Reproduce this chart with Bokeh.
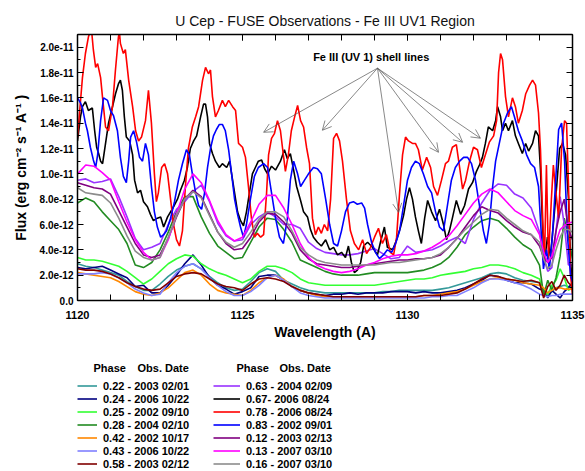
from bokeh.plotting import figure
from bokeh.layouts import column
from bokeh.models import (LinearAxis, FixedTicker, CustomJSTickFormatter, Legend,
                          LegendItem, Label, Arrow, OpenHead, Range1d)
from bokeh.embed import file_html
from bokeh.resources import INLINE

FONT = "Liberation Sans"
UNIT = 1e-12  # flux values below are in units of 1e-12 erg cm-2 s-1 A-1

# ---------------- axis ticks ----------------
X_MAJOR = [1120, 1125, 1130, 1135]
X_MINOR = list(range(1120, 1136))
Y_MAJOR = [0.0, 2e-12, 4e-12, 6e-12, 8e-12, 1e-11, 1.2e-11, 1.4e-11, 1.6e-11, 1.8e-11, 2e-11]
Y_MINOR = [0.0, 1e-12, 2e-12, 3e-12, 4e-12, 5e-12, 6e-12, 7e-12, 8e-12, 9e-12, 1e-11,
           1.1e-11, 1.2e-11, 1.3e-11, 1.4e-11, 1.5e-11, 1.6e-11, 1.7e-11, 1.8e-11,
           1.9e-11, 2e-11, 2.1e-11]

# ---------------- smooth spectra (common wavelength grid) ----------------
WL_GRID = [1120.00, 1120.25, 1120.50, 1120.75, 1121.00, 1121.25, 1121.50, 1121.75, 1122.00, 1122.25,
           1122.50, 1122.75, 1123.00, 1123.25, 1123.50, 1123.75, 1124.00, 1124.25, 1124.50, 1124.75,
           1125.00, 1125.25, 1125.50, 1125.75, 1126.00, 1126.25, 1126.50, 1126.75, 1127.00, 1127.25,
           1127.50, 1127.75, 1128.00, 1128.25, 1128.50, 1128.75, 1129.00, 1129.25, 1129.50, 1129.75,
           1130.00, 1130.25, 1130.50, 1130.75, 1131.00, 1131.25, 1131.50, 1131.75, 1132.00, 1132.25,
           1132.50, 1132.75, 1133.00, 1133.25, 1133.50, 1133.75, 1134.00, 1134.125, 1134.25, 1134.375,
           1134.50, 1134.625, 1134.75, 1134.875, 1135.00]

TEAL_022 = [2.9, 2.7, 2.6, 2.4, 2.2, 2.0, 1.5, 1.1, 0.8, 0.8,
            1.3, 1.9, 2.4, 2.7, 2.9, 2.5, 1.9, 1.4, 1.0, 0.8,
            0.9, 1.5, 2.2, 2.5, 2.3, 1.6, 1.3, 1.0, 0.8, 0.7,
            0.6, 0.6, 0.6, 0.6, 0.6, 0.6, 0.6, 0.7, 0.7, 0.8,
            0.8, 0.8, 0.8, 0.8, 0.9, 1.0, 1.2, 1.4, 1.6, 1.8,
            2.1, 2.2, 2.1, 1.8, 1.6, 1.5, 1.4, 0.8, 0.4, 0.7,
            1.0, 1.1, 1.2, 1.1, 1.0]
NAVY_024 = [2.6, 2.5, 2.6, 2.7, 2.4, 2.1, 1.8, 1.1, 1.2, 0.6,
            0.6, 1.2, 2.0, 2.9, 3.6, 2.8, 1.8, 1.2, 0.9, 0.5,
            0.7, 1.0, 1.9, 2.0, 2.0, 1.6, 1.1, 0.8, 0.6, 0.5,
            0.4, 0.5, 0.5, 0.6, 0.5, 0.6, 0.6, 0.6, 0.7, 0.7,
            0.7, 0.6, 0.7, 0.6, 0.6, 0.7, 0.8, 1.0, 1.3, 1.6,
            2.0, 1.9, 1.6, 1.4, 1.4, 1.3, 0.9, 0.8, 0.2, 0.8,
            0.5, 0.2, 0.7, 1.0, 1.4]
LIME_025 = [3.4, 3.2, 3.2, 3.1, 2.9, 2.7, 2.3, 1.8, 1.3, 1.7,
            2.3, 2.9, 3.3, 3.6, 3.5, 2.9, 2.5, 2.2, 2.0, 1.7,
            1.4, 1.7, 2.3, 2.7, 2.7, 2.5, 2.2, 1.7, 1.4, 1.3,
            1.2, 1.2, 1.2, 1.2, 1.2, 1.2, 1.2, 1.3, 1.4, 1.5,
            1.6, 1.7, 1.7, 1.8, 2.0, 2.1, 2.2, 2.3, 2.5, 2.6,
            2.8, 2.8, 2.7, 2.5, 2.2, 2.0, 1.7, 0.6, 0.5, 1.2,
            1.6, 2.5, 1.8, 0.8, 1.0]
GREEN_028 = [7.7, 8.1, 7.8, 7.0, 6.3, 5.6, 4.5, 2.8, 2.6, 3.0,
             4.0, 5.4, 7.0, 8.2, 8.2, 6.6, 5.3, 4.3, 3.8, 3.3,
             3.4, 4.6, 5.8, 6.5, 6.4, 5.6, 4.6, 3.2, 2.9, 2.6,
             2.3, 2.1, 2.0, 2.0, 2.0, 2.1, 2.2, 2.2, 2.2, 2.2,
             2.2, 2.3, 2.4, 2.6, 2.9, 3.4, 4.2, 5.2, 5.8, 6.3,
             6.5, 6.3, 5.7, 5.0, 4.4, 4.0, 2.8, 0.4, 1.6, 0.8,
             1.8, 3.5, 6.5, 5.0, 3.3]
ORANGE_042 = [2.2, 2.1, 2.0, 1.9, 1.8, 1.5, 1.1, 0.7, 0.5, 0.4,
              0.6, 1.0, 1.6, 2.2, 2.4, 2.0, 1.3, 0.8, 0.6, 0.5,
              0.4, 0.8, 1.4, 1.8, 2.0, 1.7, 1.1, 0.8, 0.6, 0.4,
              0.3, 0.3, 0.3, 0.3, 0.3, 0.3, 0.3, 0.3, 0.3, 0.3,
              0.3, 0.3, 0.4, 0.4, 0.5, 0.6, 0.7, 0.9, 1.2, 1.5,
              1.7, 1.8, 1.7, 1.6, 1.4, 1.3, 1.2, 1.0, 0.6, 0.8,
              1.0, 1.0, 0.9, 0.9, 0.9]
LTBLUE_043 = [2.1, 2.1, 2.1, 2.2, 2.1, 1.8, 1.4, 0.9, 0.6, 0.4,
              0.5, 1.4, 2.2, 2.7, 2.9, 2.5, 1.8, 1.2, 0.7, 0.4,
              0.4, 0.7, 1.2, 1.8, 2.0, 1.6, 1.1, 0.6, 0.4, 0.3,
              0.2, 0.2, 0.2, 0.2, 0.2, 0.2, 0.2, 0.2, 0.2, 0.2,
              0.2, 0.2, 0.2, 0.3, 0.3, 0.4, 0.4, 0.7, 1.0, 1.4,
              1.7, 1.7, 1.6, 1.4, 1.2, 0.9, 0.5, 0.4, 0.3, 0.4,
              0.4, 0.5, 0.5, 0.5, 0.5]
MAROON_058 = [2.5, 2.4, 2.4, 2.3, 2.1, 1.8, 1.4, 1.1, 0.9, 0.8,
              0.9, 1.4, 1.9, 2.1, 2.2, 2.1, 1.7, 1.3, 1.1, 1.0,
              0.8, 1.3, 1.7, 1.8, 1.7, 1.5, 1.1, 0.8, 0.6, 0.5,
              0.4, 0.3, 0.3, 0.3, 0.3, 0.3, 0.3, 0.3, 0.3, 0.3,
              0.3, 0.3, 0.4, 0.4, 0.4, 0.5, 0.6, 0.9, 1.3, 1.7,
              2.0, 1.9, 1.7, 1.6, 1.5, 1.6, 1.4, 0.2, 1.1, 1.5,
              0.8, 1.2, 2.0, 1.4, 1.1]
VIOLET_063 = [9.5, 9.6, 9.3, 9.4, 9.6, 8.2, 6.6, 4.9, 4.0, 4.2,
              4.5, 6.0, 7.2, 7.8, 8.6, 9.1, 7.8, 6.1, 5.1, 4.7,
              4.8, 6.0, 6.6, 7.0, 6.6, 6.0, 6.0, 5.7, 4.6, 4.1,
              3.8, 3.7, 3.6, 3.6, 3.7, 3.9, 4.1, 3.7, 3.3, 3.4,
              4.3, 3.8, 3.9, 4.0, 4.3, 4.7, 5.0, 4.5, 6.4, 7.7,
              8.7, 9.2, 9.1, 8.4, 8.1, 7.3, 5.4, 3.4, 2.3, 2.6,
              5.5, 8.2, 6.0, 2.8, 2.8]
PURPLE_012 = [9.3, 9.1, 8.9, 8.8, 8.4, 7.1, 5.8, 4.5, 3.6, 3.4,
              3.6, 4.9, 6.6, 8.0, 8.7, 8.2, 6.8, 5.4, 4.5, 4.0,
              4.1, 5.0, 6.2, 6.9, 6.8, 6.2, 5.3, 4.0, 3.3, 2.9,
              2.8, 2.7, 2.6, 2.6, 2.7, 2.8, 2.9, 3.0, 3.1, 3.2,
              3.2, 3.3, 3.3, 3.4, 3.6, 4.2, 4.9, 5.8, 6.7, 7.4,
              7.1, 6.9, 6.3, 5.8, 5.4, 5.2, 4.3, 3.4, 3.0, 3.4,
              5.5, 7.0, 8.0, 5.6, 4.8]
MAGENTA_013 = [10.0, 10.7, 10.6, 10.1, 9.5, 7.8, 6.2, 4.8, 3.8, 3.2,
               3.4, 4.8, 6.8, 8.8, 10.0, 9.3, 7.9, 6.3, 5.2, 4.7,
               5.0, 6.2, 7.6, 8.3, 8.3, 7.3, 6.0, 4.5, 3.4, 2.8,
               2.5, 2.3, 2.2, 2.3, 2.5, 2.8, 3.0, 3.3, 3.5, 3.6,
               3.6, 3.7, 3.9, 4.2, 4.6, 5.1, 5.9, 6.8, 7.7, 8.4,
               8.8, 8.5, 7.8, 7.1, 6.7, 6.4, 5.2, 3.8, 3.0, 3.5,
               4.6, 5.6, 5.9, 6.1, 6.2]
GREY_016 = [8.9, 8.5, 8.4, 8.3, 7.7, 6.5, 5.1, 3.9, 3.4, 3.2,
            3.4, 5.0, 6.7, 8.0, 8.6, 8.1, 6.7, 5.4, 4.6, 4.2,
            4.5, 5.4, 6.4, 7.0, 7.0, 6.6, 5.5, 4.2, 3.6, 3.2,
            3.0, 2.9, 2.8, 2.8, 2.8, 2.8, 2.8, 2.9, 3.0, 3.0,
            3.1, 3.2, 3.3, 3.4, 3.7, 4.2, 4.9, 5.6, 6.2, 6.8,
            7.2, 7.1, 6.5, 6.0, 5.5, 5.2, 4.6, 3.3, 2.5, 2.8,
            4.0, 5.0, 5.6, 5.6, 5.4]

# ---------------- noisy spectra ----------------
BLACK_WL = [1120.00, 1120.09, 1120.15, 1120.24, 1120.33, 1120.45, 1120.52, 1120.58, 1120.64, 1120.70,
            1120.76, 1120.85, 1120.94, 1121.06, 1121.15, 1121.24, 1121.30, 1121.36, 1121.42, 1121.48,
            1121.58, 1121.67, 1121.73, 1121.82, 1121.91, 1122.00, 1122.12, 1122.21, 1122.30, 1122.42,
            1122.52, 1122.61, 1122.73, 1122.82, 1122.91, 1123.03, 1123.12, 1123.24, 1123.33, 1123.42,
            1123.52, 1123.61, 1123.73, 1123.82, 1123.88, 1123.94, 1124.00, 1124.09, 1124.18, 1124.30,
            1124.39, 1124.52, 1124.61, 1124.67, 1124.76, 1124.85, 1124.94, 1125.03, 1125.12, 1125.21,
            1125.30, 1125.39, 1125.48, 1125.58, 1125.67, 1125.76, 1125.88, 1126.00, 1126.15, 1126.27,
            1126.36, 1126.45, 1126.55, 1126.64, 1126.76, 1126.85, 1126.97, 1127.06, 1127.15, 1127.27,
            1127.39, 1127.52, 1127.64, 1127.76, 1127.88, 1128.00, 1128.12, 1128.21, 1128.30, 1128.39,
            1128.48, 1128.58, 1128.67, 1128.79, 1128.94, 1129.09, 1129.18, 1129.30, 1129.39, 1129.55,
            1129.67, 1129.79, 1129.88, 1129.97, 1130.06, 1130.15, 1130.24, 1130.33, 1130.42, 1130.52,
            1130.61, 1130.73, 1130.85, 1130.97, 1131.09, 1131.18, 1131.27, 1131.36, 1131.48, 1131.61,
            1131.73, 1131.85, 1131.97, 1132.09, 1132.18, 1132.27, 1132.36, 1132.45, 1132.58, 1132.67,
            1132.73, 1132.82, 1132.88, 1132.97, 1133.06, 1133.18, 1133.27, 1133.36, 1133.48, 1133.58,
            1133.67, 1133.79, 1133.88, 1133.97, 1134.03, 1134.09, 1134.15, 1134.24, 1134.33, 1134.42,
            1134.52, 1134.61, 1134.70, 1134.79, 1134.88, 1134.94, 1135.00]
BLACK_067 = [12.6, 14.5, 15.3, 15.7, 15.0, 15.2, 13.4, 12.1, 11.6, 11.0,
             10.8, 12.4, 14.0, 15.3, 16.3, 17.1, 17.4, 16.6, 14.5, 12.9,
             12.6, 11.5, 9.5, 8.5, 8.7, 7.8, 7.4, 6.8, 6.3, 6.5,
             6.6, 5.8, 6.6, 7.0, 7.4, 8.0, 8.7, 9.5, 10.5, 12.0,
             12.6, 13.0, 14.5, 15.5, 15.5, 14.5, 12.4, 11.6, 11.0, 10.5,
             10.8, 10.5, 11.0, 10.0, 8.5, 7.0, 6.3, 5.9, 7.0, 8.5,
             10.0, 10.5, 11.0, 11.1, 10.4, 10.0, 10.6, 10.3, 11.0, 11.9,
             11.2, 11.6, 10.3, 9.0, 7.9, 7.0, 6.6, 5.6, 5.0, 4.6,
             4.3, 4.8, 4.0, 4.2, 3.6, 3.8, 3.4, 4.3, 3.0, 2.2,
             2.4, 3.0, 4.3, 4.6, 4.2, 3.6, 4.6, 5.8, 4.2, 4.0,
             4.8, 5.8, 6.7, 8.0, 8.9, 8.0, 6.6, 5.5, 4.5, 6.5,
             7.9, 7.0, 6.3, 7.2, 6.0, 4.8, 5.5, 6.5, 7.9, 6.8,
             7.5, 8.8, 9.3, 10.2, 10.7, 11.3, 12.4, 13.7, 13.4, 14.2,
             15.3, 14.5, 13.4, 14.0, 13.4, 14.2, 13.0, 12.4, 11.6, 12.4,
             11.8, 12.4, 13.4, 13.0, 10.3, 6.0, 3.0, 5.0, 3.5, 6.0,
             9.0, 12.0, 12.4, 11.5, 8.0, 3.0, 1.5]

RED_WL = [1120.00, 1120.15, 1120.24, 1120.33, 1120.42, 1120.48, 1120.55, 1120.61, 1120.70, 1120.76,
          1120.85, 1120.94, 1121.06, 1121.15, 1121.24, 1121.27, 1121.30, 1121.39, 1121.45, 1121.55,
          1121.67, 1121.76, 1121.85, 1121.94, 1122.06, 1122.15, 1122.24, 1122.33, 1122.39, 1122.45,
          1122.55, 1122.64, 1122.73, 1122.82, 1122.91, 1123.00, 1123.09, 1123.18, 1123.27, 1123.36,
          1123.48, 1123.58, 1123.67, 1123.79, 1123.88, 1123.97, 1124.03, 1124.09, 1124.18, 1124.27,
          1124.39, 1124.48, 1124.58, 1124.70, 1124.79, 1124.88, 1125.00, 1125.09, 1125.18, 1125.27,
          1125.36, 1125.45, 1125.55, 1125.64, 1125.73, 1125.79, 1125.88, 1125.97, 1126.06, 1126.15,
          1126.21, 1126.30, 1126.39, 1126.48, 1126.58, 1126.67, 1126.76, 1126.85, 1126.94, 1127.03,
          1127.12, 1127.21, 1127.30, 1127.39, 1127.48, 1127.58, 1127.67, 1127.76, 1127.85, 1127.94,
          1128.03, 1128.15, 1128.27, 1128.39, 1128.52, 1128.64, 1128.76, 1128.88, 1129.00, 1129.12,
          1129.24, 1129.36, 1129.48, 1129.58, 1129.67, 1129.76, 1129.85, 1129.94, 1130.03, 1130.15,
          1130.24, 1130.33, 1130.45, 1130.58, 1130.70, 1130.79, 1130.91, 1131.03, 1131.15, 1131.24,
          1131.36, 1131.48, 1131.58, 1131.67, 1131.76, 1131.88, 1132.00, 1132.12, 1132.24, 1132.36,
          1132.48, 1132.61, 1132.70, 1132.76, 1132.82, 1132.88, 1132.97, 1133.06, 1133.18, 1133.27,
          1133.36, 1133.48, 1133.58, 1133.70, 1133.79, 1133.88, 1133.97, 1134.03, 1134.09, 1134.15,
          1134.21, 1134.27, 1134.36, 1134.42, 1134.48, 1134.58, 1134.67, 1134.76, 1134.82, 1134.88,
          1134.94, 1135.00]
RED_078 = [12.9, 17.6, 19.5, 20.8, 21.5, 19.8, 18.4, 18.7, 17.6, 16.0,
           13.7, 13.4, 15.3, 18.2, 20.8, 21.2, 20.3, 19.5, 19.8, 17.4,
           15.3, 13.4, 12.6, 12.9, 14.2, 16.6, 14.0, 10.0, 7.8, 8.5,
           10.5, 10.8, 10.0, 8.0, 6.0, 4.8, 4.3, 5.5, 9.0, 12.0,
           13.7, 14.5, 15.3, 17.4, 18.4, 17.9, 18.2, 16.1, 14.5, 15.0,
           15.8, 15.3, 15.8, 15.3, 15.0, 12.4, 12.1, 11.3, 9.0, 6.5,
           5.0, 5.3, 5.0, 5.2, 8.5, 11.5, 12.8, 13.2, 14.2, 13.4,
           12.1, 10.2, 11.5, 13.4, 14.5, 15.4, 14.2, 13.7, 12.1, 10.8,
           6.5, 5.2, 5.8, 5.3, 6.0, 5.5, 8.0, 12.8, 13.2, 12.6,
           11.0, 8.0, 5.5, 4.5, 4.0, 4.8, 3.7, 4.2, 5.0, 5.7,
           4.5, 5.2, 3.8, 3.6, 5.0, 8.5, 11.5, 12.9, 12.6, 12.4,
           12.4, 11.9, 10.3, 11.3, 10.5, 9.0, 8.3, 9.5, 10.8, 11.0,
           12.1, 12.3, 10.5, 8.8, 9.5, 11.0, 12.1, 11.9, 10.5, 11.5,
           12.5, 13.0, 14.2, 18.0, 19.5, 19.0, 16.1, 14.5, 16.0, 15.3,
           14.0, 15.0, 16.3, 17.0, 17.4, 17.0, 14.8, 11.9, 7.0, 2.8,
           10.7, 3.3, 8.0, 10.7, 9.0, 6.5, 12.0, 14.2, 14.0, 9.0,
           2.0, 0.5]

BLUE_WL = [1120.00, 1120.09, 1120.15, 1120.24, 1120.30, 1120.39, 1120.48, 1120.55, 1120.61, 1120.70,
           1120.79, 1120.91, 1121.00, 1121.09, 1121.21, 1121.30, 1121.39, 1121.48, 1121.55, 1121.61,
           1121.70, 1121.79, 1121.88, 1121.97, 1122.06, 1122.15, 1122.24, 1122.33, 1122.42, 1122.52,
           1122.61, 1122.70, 1122.82, 1122.94, 1123.06, 1123.18, 1123.30, 1123.39, 1123.48, 1123.58,
           1123.67, 1123.76, 1123.85, 1123.94, 1124.03, 1124.12, 1124.21, 1124.30, 1124.39, 1124.48,
           1124.58, 1124.67, 1124.76, 1124.85, 1124.94, 1125.03, 1125.12, 1125.24, 1125.36, 1125.48,
           1125.64, 1125.76, 1125.88, 1126.00, 1126.12, 1126.24, 1126.36, 1126.45, 1126.55, 1126.67,
           1126.76, 1126.88, 1127.00, 1127.15, 1127.27, 1127.39, 1127.52, 1127.64, 1127.76, 1127.88,
           1128.00, 1128.12, 1128.24, 1128.36, 1128.48, 1128.61, 1128.70, 1128.79, 1128.91, 1129.03,
           1129.15, 1129.27, 1129.39, 1129.52, 1129.64, 1129.76, 1129.88, 1130.00, 1130.12, 1130.24,
           1130.36, 1130.48, 1130.61, 1130.73, 1130.85, 1130.97, 1131.09, 1131.21, 1131.33, 1131.45,
           1131.58, 1131.70, 1131.82, 1131.94, 1132.06, 1132.18, 1132.30, 1132.39, 1132.48, 1132.58,
           1132.67, 1132.79, 1132.91, 1133.03, 1133.15, 1133.24, 1133.36, 1133.48, 1133.61, 1133.73,
           1133.85, 1133.97, 1134.06, 1134.12, 1134.21, 1134.30, 1134.39, 1134.48, 1134.58, 1134.67,
           1134.76, 1134.85, 1134.94, 1135.00]
BLUE_083 = [16.0, 15.6, 15.2, 14.0, 13.4, 12.1, 11.1, 10.5, 11.5, 14.2,
            16.0, 15.8, 15.0, 14.6, 13.4, 11.3, 9.8, 9.3, 11.0, 12.9,
            13.4, 12.5, 11.3, 11.0, 12.4, 11.5, 9.0, 7.0, 5.8, 5.0,
            5.2, 5.5, 6.5, 7.8, 9.5, 10.8, 11.9, 11.5, 10.0, 8.5,
            7.5, 7.2, 8.5, 10.5, 12.0, 13.0, 13.5, 13.9, 13.9, 13.4,
            11.9, 10.0, 8.0, 6.8, 5.8, 5.0, 6.0, 8.0, 9.8, 10.5,
            10.8, 10.5, 8.5, 6.5, 5.0, 4.5, 6.5, 9.5, 11.0, 10.0,
            9.0, 9.5, 10.0, 10.5, 10.4, 10.0, 8.0, 6.0, 4.5, 4.3,
            5.5, 7.0, 7.7, 7.8, 7.6, 7.7, 7.3, 6.0, 4.6, 3.8,
            3.3, 3.6, 4.0, 3.8, 4.5, 5.5, 7.5, 9.5, 10.5, 11.0,
            10.8, 10.0, 9.0, 8.5, 7.0, 5.8, 5.5, 7.5, 9.5, 10.5,
            11.0, 11.3, 11.3, 10.8, 9.5, 7.5, 5.5, 4.5, 6.0, 9.0,
            11.0, 12.5, 14.0, 14.8, 15.3, 14.5, 13.4, 12.6, 11.5, 10.8,
            10.5, 9.0, 5.0, 2.5, 4.0, 2.5, 5.0, 9.0, 13.5, 14.0,
            11.0, 5.0, 2.0, 1.5]

# ---------------- legend text ----------------
LEGEND_LEFT = ["0.22 - 2003 02/01", "0.24 - 2006 10/22", "0.25 - 2002 09/10", "0.28 - 2004 02/10",
               "0.42 - 2002 10/17", "0.43 - 2006 10/22", "0.58 - 2003 02/12"]
LEGEND_RIGHT = ["0.63 - 2004 02/09", "0.67- 2006 08/24", "0.78 - 2006 08/24", "0.83 - 2002 09/01",
                "0.12 - 2003 02/13", "0.13 - 2007 03/10", "0.16 - 2007 03/10"]
LEGEND_HEAD = ["Phase", "Obs. Date"]

TITLE = "U Cep - FUSE Observations - Fe III UV1 Region"
ANNOT = "Fe III (UV 1) shell lines"
ANNOT_POS = (1128.9, 19.2)
ARROW_FROM = (1129.09, 18.34)
ARROW_TO = [(1125.64, 13.28), (1127.42, 13.44), (1129.73, 6.96),
            (1130.94, 11.70), (1131.67, 12.49), (1132.21, 12.81)]

series = [
    (WL_GRID, TEAL_022, "#339999"),
    (WL_GRID, NAVY_024, "#000080"),
    (WL_GRID, LIME_025, "#33ff33"),
    (WL_GRID, GREEN_028, "#228b22"),
    (WL_GRID, ORANGE_042, "#ff8800"),
    (WL_GRID, LTBLUE_043, "#8080ff"),
    (WL_GRID, MAROON_058, "#800000"),
    (WL_GRID, VIOLET_063, "#9933ff"),
    (BLACK_WL, BLACK_067, "#000000"),
    (RED_WL, RED_078, "#ff0000"),
    (BLUE_WL, BLUE_083, "#0000ff"),
    (WL_GRID, PURPLE_012, "#800080"),
    (WL_GRID, MAGENTA_013, "#ff00ff"),
    (WL_GRID, GREY_016, "#8c8c8c"),
]

LW = 1.6
W = 585
H_MAIN = 348
H_LEG = 123
BL, BR = 77, 13

# ================= main plot =================
p = figure(width=W, height=H_MAIN, output_backend="svg", toolbar_location=None,
           x_range=Range1d(1120, 1135), y_range=Range1d(0, 2.1e-11),
           min_border_left=BL, min_border_right=BR, min_border_top=34, min_border_bottom=48,
           background_fill_color="white", border_fill_color="white")
p.outline_line_color = None
p.xgrid.grid_line_color = None
p.ygrid.grid_line_color = None

p.title.text = TITLE
p.title.align = "center"
p.title.text_font = FONT
p.title.text_font_size = "14px"
p.title.text_font_style = "normal"
p.title.text_color = "#111111"
p.title.standoff = 12

for wl, fl, col in series:
    p.line(wl, [v * UNIT for v in fl], line_color=col, line_width=LW)

def style_axis(ax, major_in, minor_in):
    ax.major_tick_in = major_in
    ax.major_tick_out = 0
    ax.minor_tick_in = minor_in
    ax.minor_tick_out = 0
    ax.axis_line_width = 1.5
    ax.axis_line_color = "black"
    ax.major_tick_line_color = "black"
    ax.minor_tick_line_color = "black"
    ax.major_tick_line_width = 1
    ax.minor_tick_line_width = 1
    ax.major_label_text_font = FONT
    ax.major_label_text_font_style = "bold"
    ax.major_label_text_color = "black"
    ax.axis_label_text_font = FONT
    ax.axis_label_text_font_style = "bold"
    ax.axis_label_text_font_size = "14px"
    ax.axis_label_text_color = "black"

xa = p.xaxis[0]
xa.ticker = FixedTicker(ticks=X_MAJOR, minor_ticks=X_MINOR)
style_axis(xa, 6, 6)
xa.major_label_text_font_size = "11px"
xa.major_label_standoff = 10
xa.axis_label = "Wavelength (A)"
xa.axis_label_standoff = 2

ya = p.yaxis[0]
ya.ticker = FixedTicker(ticks=Y_MAJOR, minor_ticks=Y_MINOR)
ya.formatter = CustomJSTickFormatter(code="return (Math.abs(tick) < 1e-20) ? '0.0' : tick.toExponential(1);")
style_axis(ya, 6, 3)
ya.major_label_text_font_size = "10px"
ya.major_label_standoff = 4
ya.axis_label = "Flux (erg cm\u207b\u00b2 s\u207b\u00b9 A\u207b\u00b9 )"
ya.axis_label_standoff = 8

empty = CustomJSTickFormatter(code="return '';")
top = LinearAxis(ticker=FixedTicker(ticks=X_MAJOR, minor_ticks=X_MINOR), formatter=empty)
style_axis(top, 6, 6)
top.major_label_text_font_size = "0px"
top.major_label_standoff = 0
p.add_layout(top, "above")

right = LinearAxis(ticker=FixedTicker(ticks=Y_MAJOR, minor_ticks=Y_MINOR), formatter=empty)
style_axis(right, 6, 3)
right.major_label_text_font_size = "0px"
right.major_label_standoff = 0
p.add_layout(right, "right")

p.add_layout(Label(x=ANNOT_POS[0], y=ANNOT_POS[1] * UNIT, text=ANNOT, text_align="center",
                   text_baseline="middle", text_font=FONT, text_font_size="11px",
                   text_font_style="bold", text_color="black"))
for (xe, ye) in ARROW_TO:
    p.add_layout(Arrow(x_start=ARROW_FROM[0], y_start=ARROW_FROM[1] * UNIT,
                       x_end=xe, y_end=ye * UNIT, line_color="#555555", line_width=0.7,
                       end=OpenHead(size=9, line_color="#555555", line_width=0.7)))

# ================= legend panel (frame aligned with the main frame) =================
q = figure(width=W, height=H_LEG, output_backend="svg", toolbar_location=None,
           x_range=Range1d(0, 1), y_range=Range1d(0, 1),
           x_axis_type=None, y_axis_type=None,
           min_border_left=BL, min_border_right=BR, min_border_top=0, min_border_bottom=0,
           background_fill_color="white", border_fill_color="white")
q.outline_line_color = None
q.grid.visible = False

# legend proxies: same styles as the spectra, placed outside the visible range
proxies = [q.line([-2, -1], [-2, -2], line_color=col, line_width=LW) for _, _, col in series]

def make_legend(labels, rends, x, y, gw):
    leg = Legend(items=[LegendItem(label=l, renderers=[r]) for l, r in zip(labels, rends)],
                 location=(x, y), orientation="vertical", padding=0, margin=0, spacing=0,
                 label_height=13, glyph_height=13, glyph_width=gw, label_standoff=6,
                 label_text_font=FONT, label_text_font_size="11px", label_text_font_style="bold",
                 label_text_color="black", border_line_alpha=0, background_fill_alpha=0)
    q.add_layout(leg)

make_legend(LEGEND_LEFT, proxies[:7], 0, 1, 20)
make_legend(LEGEND_RIGHT, proxies[7:], 136, 1, 27)

for txt, xs in [(LEGEND_HEAD[0], 16), (LEGEND_HEAD[1], 60), (LEGEND_HEAD[0], 159), (LEGEND_HEAD[1], 202)]:
    q.add_layout(Label(x=xs, y=104, x_units="screen", y_units="screen", text=txt,
                       text_baseline="middle", text_font=FONT, text_font_size="11px",
                       text_font_style="bold", text_color="black"))

open("out.html", "w").write(file_html(column(p, q, spacing=0), INLINE))
